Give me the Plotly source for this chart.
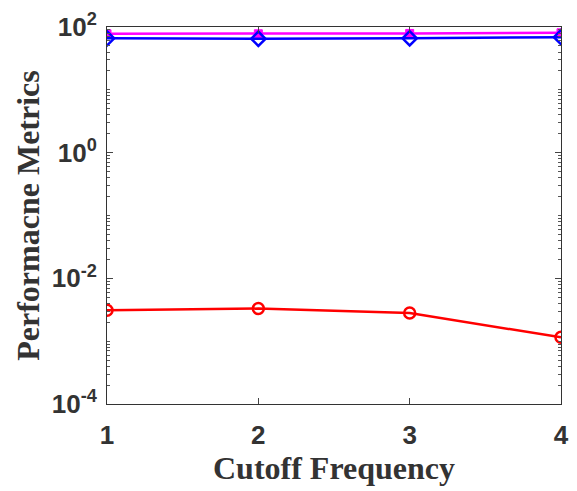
import numpy as np
import plotly.graph_objects as go

cutoff = [1, 2, 3, 4]
magenta_vals = [78, 78, 79, 81]
blue_vals = [66, 65, 66, 69]
red_vals = [0.0031, 0.0033, 0.0028, 0.00115]

ytick_vals = [1e-4, 1e-2, 1, 1e2]
ytick_text = ["10<sup>-4</sup>", "10<sup>-2</sup>", "10<sup>0</sup>", "10<sup>2</sup>"]
xtick_vals = [1, 2, 3, 4]

minor_vals = [m * 10.0 ** e for e in range(-4, 2) for m in range(1, 10)] + [100]

fig = go.Figure()
fig.add_trace(go.Scatter(x=cutoff, y=magenta_vals, mode="lines+markers",
                         line=dict(color="#ff00ff", width=2.5),
                         marker=dict(symbol="square", size=8, color="#ff00ff",
                                     line=dict(color="#ff00ff", width=1))))
fig.add_trace(go.Scatter(x=cutoff, y=blue_vals, mode="lines+markers",
                         line=dict(color="#0000ff", width=2.5),
                         marker=dict(symbol="diamond-open", size=11, color="#0000ff",
                                     line=dict(color="#0000ff", width=2.5))))
fig.add_trace(go.Scatter(x=cutoff, y=red_vals, mode="lines+markers",
                         line=dict(color="#ff0000", width=2.5),
                         marker=dict(symbol="circle-open", size=11, color="#ff0000",
                                     line=dict(color="#ff0000", width=2.5))))

fig.update_layout(
    width=577, height=491,
    margin=dict(l=107, r=8, t=27, b=87),
    plot_bgcolor="white", paper_bgcolor="white",
    showlegend=False,
)
fig.update_xaxes(
    range=[1, 4], tickvals=xtick_vals, ticks="inside", ticklen=6,
    showline=True, linecolor="#333333", linewidth=1, mirror="ticks",
    showgrid=False, zeroline=False, ticklabelstandoff=8,
    tickfont=dict(family="Liberation Sans", size=26, color="#333333", weight="bold"),
    title=dict(text="Cutoff Frequency", standoff=2,
               font=dict(family="Liberation Serif", size=32, color="#333333", weight="bold")),
)
fig.update_yaxes(
    type="log", range=[-4, 2], tickvals=ytick_vals, ticktext=ytick_text,
    ticks="inside", ticklen=6,
    minor=dict(tickvals=minor_vals, ticks="inside", ticklen=3, tickcolor="#555555", showgrid=False),
    showline=True, linecolor="#333333", linewidth=1, mirror="ticks",
    showgrid=False, zeroline=False, ticklabelstandoff=4,
    tickfont=dict(family="Liberation Sans", size=26, color="#333333", weight="bold"),
    title=dict(text="Performacne Metrics", standoff=2,
               font=dict(family="Liberation Serif", size=32, color="#333333", weight="bold")),
)

fig.write_html("out.html")
